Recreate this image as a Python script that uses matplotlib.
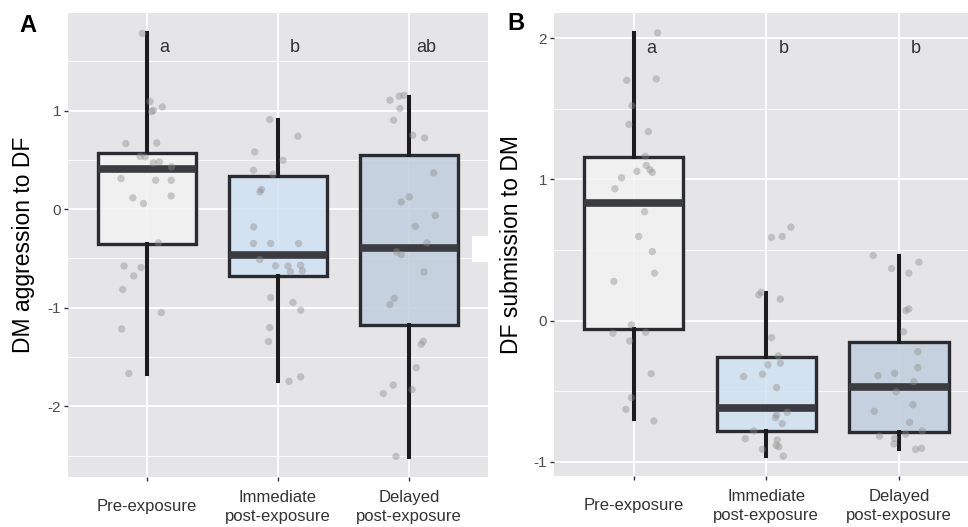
import matplotlib
matplotlib.use("Agg")
import matplotlib.pyplot as plt
from matplotlib.patches import Rectangle

plt.rcParams['font.family'] = ['Liberation Sans', 'DejaVu Sans']

# categories and tick labels
groupes = ["Pre-exposure", "Immediate\npost-exposure", "Delayed\npost-exposure"]
positions = [1, 2, 3]

# ---- panel A : DM aggression to DF ----
# box stats: whisker low, q1, median, q3, whisker high
a_wlo = [-1.67, -1.745, -2.51]
a_q1 = [-0.35, -0.68, -1.17]
a_med = [0.41, -0.465, -0.39]
a_q3 = [0.567, 0.34, 0.55]
a_whi = [1.79, 0.905, 1.14]
a_lettres = ["a", "b", "ab"]

# jittered points (x = group position + jitter, y = value)
a_x = [0.966, 1.025, 1.050, 1.038, 1.119, 0.841, 1.076, 0.949, 0.987, 1.050, 1.096, 1.189, 0.804,
       1.068, 1.186, 1.186, 0.894, 0.975, 1.089, 0.827, 0.957, 0.901, 0.817, 1.111, 0.809, 0.864,
       1.937, 2.152, 1.823, 2.038, 1.813, 1.962, 1.874, 1.863, 1.815, 1.813, 1.944, 2.157, 1.861,
       1.982, 2.076, 2.171, 2.094, 2.186, 1.944, 2.114, 2.173, 1.937, 1.927, 2.084, 2.173,
       2.853, 2.924, 2.960, 2.929, 2.881, 3.026, 3.117, 3.186, 3.000, 2.939, 3.198, 3.046, 3.135,
       2.904, 2.939, 3.112, 2.886, 2.853, 3.107, 3.091, 3.053, 2.878, 2.802, 3.021, 2.899]
a_y = [1.784, 1.094, 1.003, 0.990, 1.038, 0.667, 0.673, 0.538, 0.531, 0.470, 0.480, 0.430, 0.312,
       0.294, 0.294, 0.135, 0.115, 0.058, -0.342, -0.576, -0.592, -0.677, -0.815, -1.049, -1.215, -1.668,
       0.911, 0.741, 0.582, 0.497, 0.396, 0.355, 0.200, 0.176, -0.180, -0.348, -0.348, -0.348, -0.511,
       -0.575, -0.575, -0.569, -0.636, -0.626, -0.897, -0.947, -1.025, -1.201, -1.343, -1.746, -1.702,
       1.107, 1.147, 1.157, 1.022, 0.904, 0.751, 0.724, 0.369, 0.125, 0.074, -0.064, -0.173, -0.342,
       -0.433, -0.460, -0.636, -0.904, -0.968, -1.340, -1.371, -1.608, -1.784, -1.871, -1.830, -2.508]

# ---- panel B : DF submission to DM ----
b_wlo = [-0.70, -0.957, -0.91]
b_q1 = [-0.06, -0.78, -0.79]
b_med = [0.83, -0.62, -0.47]
b_q3 = [1.16, -0.26, -0.149]
b_whi = [2.035, 0.196, 0.46]
b_lettres = ["a", "b", "b"]

b_x = [1.181, 0.949, 1.171, 0.987, 0.965, 1.111, 1.088, 1.096, 1.025, 1.141, 1.123, 0.909, 0.859,
       1.083, 1.038, 1.141, 1.158, 0.851, 0.983, 0.844, 1.091, 0.970, 1.133, 0.983, 0.942, 1.153,
       2.040, 2.121, 2.186, 1.944, 1.962, 2.106, 2.040, 2.091, 2.012, 2.106, 1.829, 1.972, 2.078,
       2.078, 2.158, 2.070, 2.121, 1.906, 1.842, 2.083, 2.075, 2.095, 1.970, 2.128,
       2.806, 3.151, 2.945, 3.075, 3.053, 3.075, 3.035, 3.143, 3.143, 2.842, 2.967, 3.113, 2.980,
       3.106, 2.814, 3.081, 3.176, 2.854, 3.051, 2.967, 2.962, 3.126, 3.171]
b_y = [2.038, 1.702, 1.712, 1.523, 1.390, 1.338, 1.163, 1.099, 1.057, 1.050, 1.069, 1.012, 0.934,
       0.771, 0.596, 0.489, 0.336, 0.277, -0.030, -0.089, -0.083, -0.144, -0.376, -0.546, -0.629, -0.711,
       0.589, 0.596, 0.662, 0.182, 0.201, 0.152, -0.121, -0.250, -0.314, -0.302, -0.397, -0.380, -0.475,
       -0.669, -0.650, -0.688, -0.730, -0.782, -0.837, -0.846, -0.884, -0.894, -0.912, -0.960,
       0.461, 0.414, 0.369, 0.336, 0.071, 0.083, -0.080, -0.220, -0.333, -0.390, -0.373, -0.433, -0.504,
       -0.596, -0.643, -0.721, -0.782, -0.818, -0.804, -0.834, -0.874, -0.912, -0.905]

couleurs = ["#f3f3f4", "#cfe2f3", "#bfcddc"]
fond = "#e5e5e7"


def panneau(ax, wlo, q1, med, q3, whi, px, py, lettres, ylim, yticks, ymin, ylabel, lettre_y):
    ax.set_facecolor(fond)
    for s in ax.spines.values():
        s.set_visible(False)
    # grille ggplot : majeure + mineure
    for v in yticks:
        ax.axhline(v, color="white", lw=1.3, zorder=0)
    for v in ymin:
        ax.axhline(v, color="white", lw=0.6, zorder=0)
    for p in positions:
        ax.axvline(p, color="white", lw=1.3, zorder=0)

    stats = []
    for i in range(3):
        stats.append(dict(whislo=wlo[i], q1=q1[i], med=med[i], q3=q3[i], whishi=whi[i], fliers=[]))
    bp = ax.bxp(stats, positions=positions, widths=0.75, patch_artist=True, showcaps=False,
                boxprops=dict(edgecolor="#2a2c31", linewidth=2.4),
                whiskerprops=dict(color="#1c1c1c", linewidth=2.9),
                medianprops=dict(color="#3a3c40", linewidth=5.5, solid_capstyle="butt"),
                manage_ticks=False, zorder=2)
    for patch, c in zip(bp["boxes"], couleurs):
        patch.set_facecolor(matplotlib.colors.to_rgba(c, 0.82))

    ax.scatter(px, py, s=28, color="#8c8c8c", alpha=0.42, edgecolors="none", zorder=3)

    for p, l in zip(positions, lettres):
        ax.text(p + 0.13, lettre_y, l, fontsize=13, color="#333333", ha="center", va="center")

    ax.set_xlim(0.4, 3.6)
    ax.set_ylim(*ylim)
    ax.set_yticks(yticks)
    ax.set_yticklabels([str(v) if v >= 0 else "-" + str(-v) for v in yticks])
    ax.set_xticks(positions)
    ax.set_xticklabels(groupes, va="center", linespacing=1.3)
    ax.tick_params(axis="y", length=3, width=1, color="#333333", labelsize=11, labelcolor="#4d4d4d", pad=2)
    ax.tick_params(axis="x", length=3, width=1, color="#333333", labelsize=12, labelcolor="#333333", pad=18.5)
    ax.set_ylabel(ylabel, fontsize=16.5, color="black", va="center")


fig = plt.figure(figsize=(9.68, 5.27), dpi=100)
axA = fig.add_axes([68 / 968, 1 - 477 / 527, 420 / 968, 464 / 527])
axB = fig.add_axes([554 / 968, 1 - 476 / 527, 424.5 / 968, 463 / 527])

panneau(axA, a_wlo, a_q1, a_med, a_q3, a_whi, a_x, a_y, a_lettres,
        (-2.718, 1.992), [-2, -1, 0, 1], [-2.5, -1.5, -0.5, 0.5, 1.5], "DM aggression to DF", 1.64)
panneau(axB, b_wlo, b_q1, b_med, b_q3, b_whi, b_x, b_y, b_lettres,
        (-1.101, 2.179), [-1, 0, 1, 2], [-0.5, 0.5, 1.5], "DF submission to DM", 1.93)
axA.yaxis.set_label_coords(-0.105, 0.5)
axB.yaxis.set_label_coords(-0.099, 0.5)

fig.text(28 / 968, 1 - 25 / 527, "A", fontsize=17, fontweight="bold", ha="center", va="center")
fig.text(516 / 968, 1 - 23 / 527, "B", fontsize=17, fontweight="bold", ha="center", va="center")

# petit rectangle blanc présent sur l'image d'origine
fig.patches.append(Rectangle((472 / 968, 1 - 262 / 527), 16 / 968, 26 / 527,
                             transform=fig.transFigure, facecolor="white", edgecolor="none", zorder=5))

fig.savefig("out.png", dpi=100)
